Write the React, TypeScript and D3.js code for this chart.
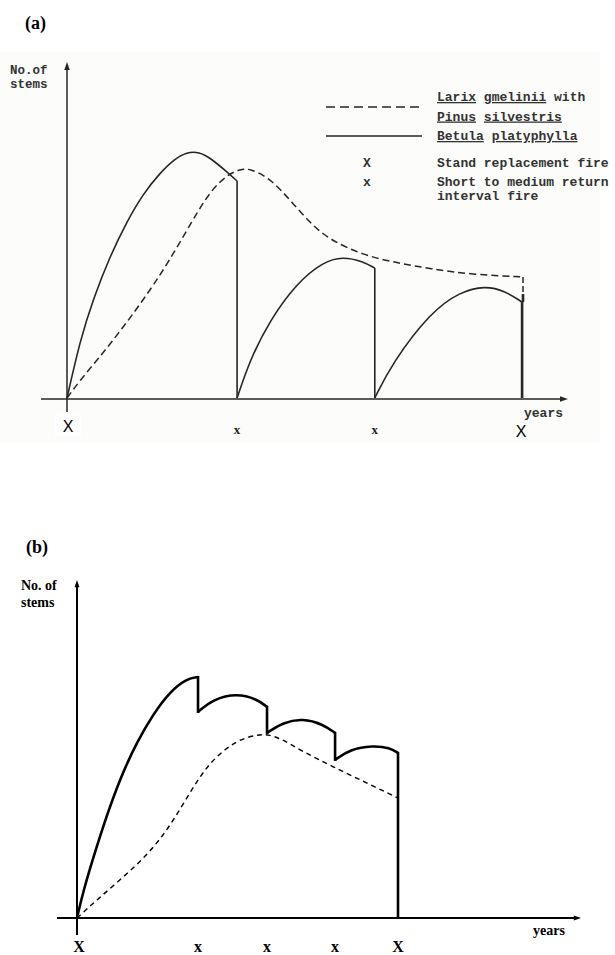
import React from "react";
import * as d3 from "d3";

// ---------- Data (panel a) ----------
const aFires = [0, 37.3, 67.5, 100];
const aFireLabels = ["X", "x", "x", "X"];
const aBetula1: [number, number][] = [
  [0, 0], [2.9, 23.6], [5.7, 40], [9.4, 57.5], [13.2, 72], [16.7, 83],
  [20.4, 91.5], [23.5, 97], [26.3, 100], [29, 100], [31.4, 97.6], [35.1, 91.9], [37.3, 88.2],
];
const aBetula2: [number, number][] = [
  [37.3, 0], [40.1, 15.4], [44.5, 31.7], [50.4, 46.7], [56.1, 55.3],
  [60.5, 57.5], [64.9, 55.5], [67.5, 52.8],
];
const aBetula3: [number, number][] = [
  [67.5, 0], [71.3, 14.2], [79.8, 35], [86.2, 43.2], [91.7, 45.6],
  [96.1, 43.5], [99.8, 39],
];
const aLarix: [number, number][] = [
  [0, 0], [2.9, 7.3], [7.2, 16.7], [11.6, 27], [16.7, 39.8], [21.9, 54],
  [27.6, 72.5], [31.4, 84], [35.1, 90.7], [38, 93], [40.1, 93.3],
  [44.5, 89.4], [48.9, 80.5], [53.3, 71.1], [57.7, 64.2], [64.9, 58.1],
  [72.4, 54.9], [79.6, 52.6], [88.6, 50.2], [100, 49.2],
];

// ---------- Data (panel b) ----------
const bFires = [0, 37.7, 59.2, 80.4, 100];
const bFireLabels = ["X", "x", "x", "x", "X"];
const bBetula1: [number, number][] = [
  [0, 0], [1.9, 11], [6.2, 30], [10.3, 46.5], [14.3, 60.5], [18.7, 73],
  [23.7, 84.5], [29, 94], [34.3, 99.4], [37.7, 100],
];
const bBetula2: [number, number][] = [
  [37.7, 85.5], [42.4, 90.8], [49.8, 93.2], [56.1, 90.8], [59.2, 87.6],
];
const bBetula3: [number, number][] = [
  [59.2, 76.8], [64.2, 81.2], [70.4, 82.8], [76.6, 80.4], [80.4, 76.8],
];
const bBetula4: [number, number][] = [
  [80.4, 65.6], [85, 70], [92.2, 71.6], [97.5, 70.6], [100, 68.5],
];
const bLarix: [number, number][] = [
  [0, 0], [6.2, 7.5], [13.4, 15.8], [20.6, 24.5], [26.8, 34], [32.1, 45],
  [37.4, 57], [42.4, 66], [49.8, 73.9], [56.1, 76], [59.5, 76.3],
  [64.2, 74], [70.4, 69], [79.8, 62.7], [90.3, 56], [100, 49.8],
];

const legendSpecies = [
  [["Larix", true], [" ", false], ["gmelinii", true], [" with", false]],
  [["Pinus", true], [" ", false], ["silvestris", true]],
  [["Betula", true], [" ", false], ["platyphylla", true]],
] as [string, boolean][][];
const legendFires = [
  { mark: "X", text: ["Stand replacement fire"] },
  { mark: "x", text: ["Short to medium return", "interval fire"] },
];

const MONO = "'Liberation Mono', 'DejaVu Sans Mono', monospace";
const SERIF = "'Liberation Serif', 'Times New Roman', serif";
const SANS = "'Liberation Sans', Arial, sans-serif";

function Arrow({ x, y, dir, size = 5, color }: { x: number; y: number; dir: "up" | "right"; size?: number; color: string }) {
  const d =
    dir === "up"
      ? `M${x},${y} L${x - size * 0.55},${y + size * 1.6} L${x + size * 0.55},${y + size * 1.6} Z`
      : `M${x},${y} L${x - size * 1.6},${y - size * 0.55} L${x - size * 1.6},${y + size * 0.55} Z`;
  return <path d={d} fill={color} />;
}

export default function App() {
  // Panel a scales
  const xa = d3.scaleLinear().domain([0, 100]).range([67, 523]);
  const ya = d3.scaleLinear().domain([0, 100]).range([398, 152]);
  const la = d3.line<[number, number]>().x((d) => xa(d[0])).y((d) => ya(d[1])).curve(d3.curveBasis);

  // Panel b scales
  const xb = d3.scaleLinear().domain([0, 100]).range([77, 398]);
  const yb = d3.scaleLinear().domain([0, 100]).range([918, 677]);
  const lb = d3.line<[number, number]>().x((d) => xb(d[0])).y((d) => yb(d[1])).curve(d3.curveBasis);

  const ca = "#262626";
  const last = <T,>(a: T[]) => a[a.length - 1];

  return (
    <svg width={615} height={955} style={{ position: "absolute", left: 0, top: 0, background: "#fff" }}>
      {/* Panel a background (scan tint) */}
      <rect x={0} y={52} width={600} height={390} fill="#fcfcfa" />
      <text x={25} y={29} fontFamily={SERIF} fontWeight="bold" fontSize={18} fill="#000">(a)</text>

      {/* axes a */}
      <line x1={xa(0)} x2={xa(0)} y1={412} y2={66} stroke={ca} strokeWidth={1.5} />
      <Arrow x={xa(0)} y={62} dir="up" color={ca} />
      <line x1={41} x2={563} y1={ya(0) + 1} y2={ya(0) + 1} stroke={ca} strokeWidth={1.6} />
      <Arrow x={568} y={ya(0) + 1} dir="right" color={ca} />
      <text x={10} y={74} fontFamily={MONO} fontWeight="bold" fontSize={12.5} fill="#333">No.of</text>
      <text x={10} y={88} fontFamily={MONO} fontWeight="bold" fontSize={12.5} fill="#333">stems</text>
      <text x={524} y={417} fontFamily={MONO} fontWeight="bold" fontSize={13} fill="#333">years</text>

      {/* Larix dashed a */}
      <path d={la(aLarix) || ""} fill="none" stroke={ca} strokeWidth={1.5} strokeDasharray="7 4" />
      <line x1={xa(100)} x2={xa(100)} y1={ya(last(aLarix)[1])} y2={ya(last(aBetula3)[1]) - 8} stroke={ca} strokeWidth={1.5} strokeDasharray="6 3" />

      {/* Betula solid a */}
      {[aBetula1, aBetula2, aBetula3].map((seg, i) => (
        <g key={i}>
          <path d={la(seg) || ""} fill="none" stroke={ca} strokeWidth={1.6} />
          <line x1={xa(last(seg)[0])} x2={xa(last(seg)[0])} y1={ya(last(seg)[1])} y2={ya(0)}
            stroke={ca} strokeWidth={i === 2 ? 2.6 : 1.6} />
        </g>
      ))}
      <line x1={xa(100)} x2={xa(100)} y1={ya(last(aBetula3)[1]) - 8} y2={ya(last(aBetula3)[1])} stroke={ca} strokeWidth={2.6} />

      {/* fire labels a */}
      <rect x={55} y={414} width={26} height={22} fill="#fff" />
      {aFires.map((f, i) =>
        aFireLabels[i] === "X" ? (
          <text key={i} x={xa(f) + (i === 0 ? 1 : -2)} y={i === 0 ? 432 : 437} textAnchor="middle" fontFamily={SANS} fontSize={16} fill="#000">X</text>
        ) : (
          <text key={i} x={xa(f)} y={434} textAnchor="middle" fontFamily={SERIF} fontWeight="bold" fontSize={13} fill="#222">x</text>
        )
      )}

      {/* legend a */}
      <line x1={326} x2={422} y1={107} y2={107} stroke={ca} strokeWidth={1.6} strokeDasharray="9 5" />
      <line x1={326} x2={422} y1={136} y2={136} stroke={ca} strokeWidth={1.6} />
      {legendSpecies.map((row, i) => (
        <text key={i} x={437} y={101 + i * 19.5} fontFamily={MONO} fontWeight="bold" fontSize={13} fill="#333" style={{ whiteSpace: "pre" }}>
          {row.map(([w, u], j) => (
            <tspan key={j} style={{ textDecoration: u ? "underline" : "none" }}>{w}</tspan>
          ))}
        </text>
      ))}
      {legendFires.map((lf, i) => (
        <g key={i}>
          <text x={367} y={167 + i * 19} textAnchor="middle" fontFamily={MONO} fontWeight="bold" fontSize={13} fill="#333">{lf.mark}</text>
          {lf.text.map((t, j) => (
            <text key={j} x={437} y={167 + i * 19 + j * 14} fontFamily={MONO} fontWeight="bold" fontSize={13} fill="#333" style={{ whiteSpace: "pre" }}>{t}</text>
          ))}
        </g>
      ))}

      {/* ---------- Panel b ---------- */}
      <text x={26} y={553} fontFamily={SERIF} fontWeight="bold" fontSize={18} fill="#000">(b)</text>
      <line x1={xb(0)} x2={xb(0)} y1={935} y2={584} stroke="#000" strokeWidth={2} />
      <Arrow x={xb(0)} y={580} dir="up" color="#000" size={4.5} />
      <line x1={57} x2={576} y1={yb(0)} y2={yb(0)} stroke="#000" strokeWidth={2} />
      <Arrow x={581} y={yb(0)} dir="right" color="#000" size={4.5} />
      <text x={21} y={590} fontFamily={SERIF} fontWeight="bold" fontSize={14} fill="#000">No. of</text>
      <text x={21} y={607} fontFamily={SERIF} fontWeight="bold" fontSize={14} fill="#000">stems</text>
      <text x={533} y={935} fontFamily={SERIF} fontWeight="bold" fontSize={14} fill="#000">years</text>

      <path d={lb(bLarix) || ""} fill="none" stroke="#000" strokeWidth={1.4} strokeDasharray="5 4" />
      {[bBetula1, bBetula2, bBetula3, bBetula4].map((seg, i, arr) => {
        const end = last(seg);
        const nextStart = i < arr.length - 1 ? arr[i + 1][0][1] : 0;
        return (
          <g key={i}>
            <path d={lb(seg) || ""} fill="none" stroke="#000" strokeWidth={2.6} />
            <line x1={xb(end[0])} x2={xb(end[0])} y1={yb(end[1]) - 1} y2={yb(nextStart) + 1} stroke="#000" strokeWidth={2.6} />
          </g>
        );
      })}
      {bFires.map((f, i) => (
        <text key={i} x={xb(f) + (i === 0 ? 2 : 0)} y={952} textAnchor="middle" fontFamily={SERIF} fontWeight="bold" fontSize={16} fill="#000">{bFireLabels[i]}</text>
      ))}
    </svg>
  );
}
